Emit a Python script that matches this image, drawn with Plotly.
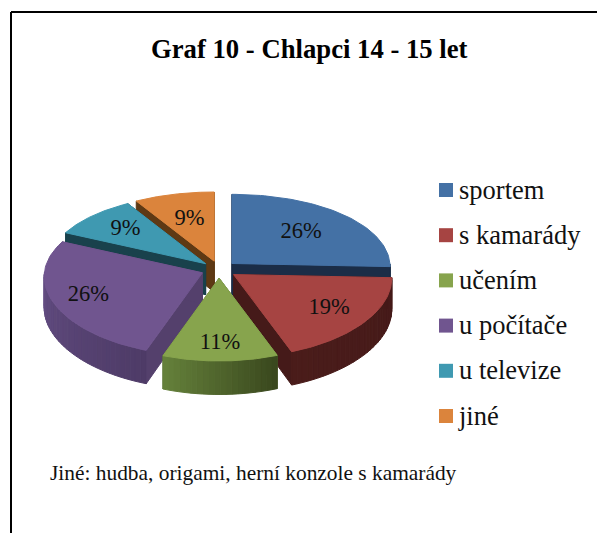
import numpy as np
import plotly.graph_objects as go

title = "Graf 10 - Chlapci 14 - 15 let"
note = "Jiné: hudba, origami, herní konzole s kamarády"
categories = ["sportem", "s kamarády", "učením", "u počítače", "u televize", "jiné"]
values = [25.6, 18.6, 11.2, 26.4, 9.4, 8.6]
top_colors = ["#4471a5", "#a64442", "#87a44d", "#70558f", "#3f99b1", "#db843c"]
side_left = ["#1b2d47", "#4a1c1a", "#64803a", "#634d82", "#19414c", "#5e3914"]
side_right = ["#1b2d47", "#451a19", "#3a481e", "#4e3b67", "#19414c", "#5e3914"]
cut_colors = ["#1b2d47", "#451a19", "#4f6530", "#54406c", "#19414c", "#5e3914"]
label_r = [0.62, 0.73, 0.80, 0.77, 0.70, 0.60]

# projection of the tilted, exploded pie onto the pixel-like axes
CX, CY, RX, RY, K, DEPTH, EXPLODE = 219, 269.5, 158, 76, 0.09, 31, 18
SERIF = "Liberation Serif"

total = sum(values)
ends = np.cumsum(values) / total * 360
starts = ends - np.array(values) / total * 360
mids = (starts + ends) / 2


def project(i, theta, r=1.0, drop=0.0):
    m, t = np.radians(mids[i]), np.radians(theta)
    u, v = r * np.sin(t), -r * np.cos(t)
    ox, oy = EXPLODE * np.sin(m), -EXPLODE * np.cos(m) * RY / RX
    x = CX + ox + RX * u * (1 + 0.05 * v)
    y = CY + oy + RY * v * (1 + K * v) + drop * DEPTH * (1 + 0.08 * v)
    return x, y


def blend(a, b, f):
    ca = [int(a[j:j + 2], 16) for j in (1, 3, 5)]
    cb = [int(b[j:j + 2], 16) for j in (1, 3, 5)]
    return "rgb(%d,%d,%d)" % tuple(round(p + (q - p) * f) for p, q in zip(ca, cb))


def poly(xs, ys, color):
    return go.Scatter(x=list(xs), y=list(ys), mode="lines", fill="toself", fillcolor=color,
                      line=dict(color=color, width=1), hoverinfo="skip", showlegend=False)


fig = go.Figure()
for i in [5, 4, 0, 3, 1, 2]:
    a, b = starts[i], ends[i]
    # cut faces
    for edge in (a, b):
        ax, ay = project(i, 0, 0)
        ax2, ay2 = project(i, 0, 0, 1)
        ex, ey = project(i, edge)
        ex2, ey2 = project(i, edge, 1, 1)
        fig.add_trace(poly([ax, ex, ex2, ax2, ax], [ay, ey, ey2, ay2, ay], cut_colors[i]))
    # outer rim, in strips so its shade can change along the arc
    steps = max(int((b - a) / 2), 2)
    grid = np.linspace(a, b, steps + 1)
    visible = [(p, q) for p, q in zip(grid[:-1], grid[1:]) if 90 <= (p + q) / 2 <= 270]
    for n, (p, q) in enumerate(visible):
        f = n / max(len(visible) - 1, 1)
        arc = np.linspace(p, q, 3)
        tx, ty = project(i, arc)
        bx, by = project(i, arc, 1, 1)
        fig.add_trace(poly(np.r_[tx, bx[::-1], tx[0]], np.r_[ty, by[::-1], ty[0]],
                           blend(side_right[i], side_left[i], f)))
    # top surface
    arc = np.linspace(a, b, 60)
    tx, ty = project(i, arc)
    ax, ay = project(i, 0, 0)
    fig.add_trace(poly(np.r_[ax, tx, ax], np.r_[ay, ty, ay], top_colors[i]))

# percentage labels
lx, ly = zip(*[project(i, mids[i], label_r[i]) for i in range(len(values))])
fig.add_trace(go.Scatter(x=lx, y=ly, mode="text", text=[f"{v:.0f}%" for v in values],
                         textfont=dict(family=SERIF, size=22.5, color="#111111"),
                         hoverinfo="skip", showlegend=False))

# legend column
leg_y = [190 + 45.2 * n for n in range(len(categories))]
fig.add_trace(go.Scatter(x=[446] * len(categories), y=leg_y, mode="markers",
                         marker=dict(symbol="square", size=14, color=top_colors),
                         hoverinfo="skip", showlegend=False))
fig.add_trace(go.Scatter(x=[459] * len(categories), y=[p + 2 for p in leg_y], mode="text",
                         text=categories, textposition="middle right",
                         textfont=dict(family=SERIF, size=26.5, color="#111111"),
                         hoverinfo="skip", showlegend=False))

fig.add_annotation(x=309, y=49, text=f"<b>{title}</b>", showarrow=False, xanchor="center",
                   yanchor="middle", font=dict(family=SERIF, size=26.7, color="#000000"))
fig.add_annotation(x=48, y=473, text=note, showarrow=False, xanchor="left", yanchor="middle",
                   font=dict(family=SERIF, size=21.4, color="#111111"))

border = dict(color="#000000", width=2)
fig.add_shape(type="line", x0=11, x1=11, y0=12, y1=533, line=border)
fig.add_shape(type="line", x0=11, x1=597, y0=12, y1=12, line=border)

fig.update_layout(width=597, height=533, margin=dict(l=0, r=0, t=0, b=0),
                  paper_bgcolor="white", plot_bgcolor="white", showlegend=False,
                  xaxis=dict(range=[0, 597], visible=False, fixedrange=True),
                  yaxis=dict(range=[533, 0], visible=False, fixedrange=True))
fig.write_html("out.html", config={"displayModeBar": False},
               post_script="document.body.style.margin='0';document.body.style.overflow='hidden';")
